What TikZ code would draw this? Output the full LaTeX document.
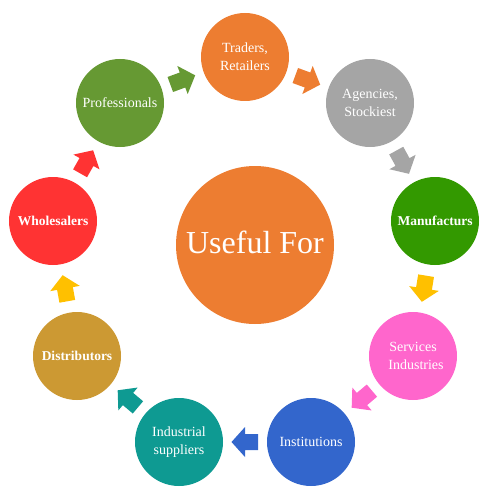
\documentclass[tikz,border=0pt]{standalone}
\usepackage{fontspec}
\setmainfont{Liberation Serif}
\usetikzlibrary{calc}
\definecolor{corange}{HTML}{ED7D31}
\definecolor{cgray}{HTML}{A5A5A5}
\definecolor{cgreen}{HTML}{339900}
\definecolor{cpink}{HTML}{FF66CC}
\definecolor{cblue}{HTML}{3366CC}
\definecolor{cteal}{HTML}{0E9A92}
\definecolor{cgold}{HTML}{CC9933}
\definecolor{cred}{HTML}{FF3333}
\definecolor{colive}{HTML}{669933}
\definecolor{cyellow}{HTML}{FFC000}
\tikzset{
  ring/.style={circle, fill=#1, minimum size=88pt, inner sep=0pt, text=white,
    align=center, font=\fontsize{14}{18}\selectfont},
  boldring/.style={ring=#1, font=\fontsize{13.5}{17}\selectfont\bfseries},
  hub/.style={circle, fill=corange, minimum size=158pt, inner sep=0pt, text=white,
    font=\fontsize{32}{36}\selectfont},
  blockarr/.pic={\fill[pic actions] (-13,-8) -- (0,-8) -- (0,-15) -- (13.5,0)
    -- (0,15) -- (0,8) -- (-13,8) -- cycle;}
}
\newcommand\linkarrow[3]{%
  \path let \p1=($(#2)-(#1)$), \n1={atan2(\y1,\x1)} in
    ($(#1)!0.5!(#2)$) pic[rotate=\n1, fill=#3] {blockarr};}
\begin{document}
\begin{tikzpicture}[x=1pt,y=-1pt]
\useasboundingbox (0,0) rectangle (500,500);
\node[hub] (hub) at (255,245) {\raisebox{5pt}{Useful For}};
\node[ring=corange] (trad) at (245,57) {Traders,\\Retailers};
\node[ring=cgray] (agen) at (370,103) {Agencies,\\Stockiest};
\node[boldring=cgreen] (manu) at (435,221) {Manufacturs};
\node[ring=cpink] (serv) at (413,356) {Services\\\hspace*{6pt}Industries};
\node[ring=cblue] (inst) at (311,442) {Institutions};
\node[ring=cteal] (indu) at (179,442) {Industrial\\suppliers};
\node[boldring=cgold] (dist) at (77,356) {Distributors};
\node[boldring=cred] (whol) at (53,221) {Wholesalers};
\node[ring=colive] (prof) at (120,103) {Professionals};
\linkarrow{prof}{trad}{colive}
\linkarrow{trad}{agen}{corange}
\linkarrow{agen}{manu}{cgray}
\linkarrow{manu}{serv}{cyellow}
\linkarrow{serv}{inst}{cpink}
\linkarrow{inst}{indu}{cblue}
\linkarrow{indu}{dist}{cteal}
\linkarrow{dist}{whol}{cyellow}
\linkarrow{whol}{prof}{cred}
\end{tikzpicture}
\end{document}
